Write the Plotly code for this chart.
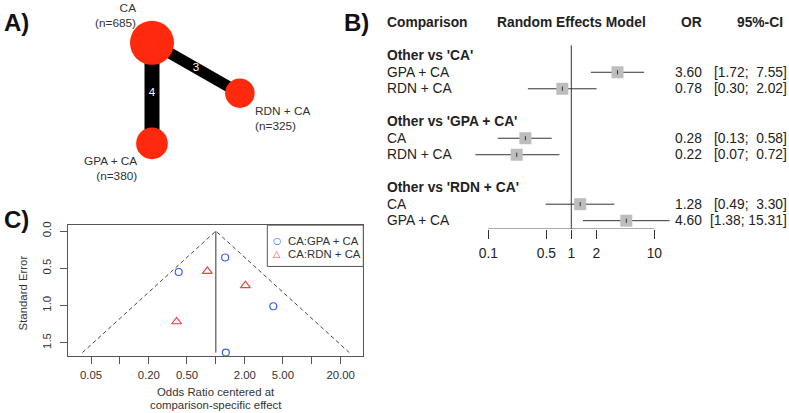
import math
import plotly.graph_objects as go

W, H = 789, 413
FONT = "Liberation Sans, Arial, Helvetica, sans-serif"
TXT = "#222222"

# ---------------- Panel A: network graph data ----------------
node_names = ["CA", "GPA + CA", "RDN + CA"]
node_n = [685, 380, 325]
edge_a = ["CA", "CA"]
edge_b = ["GPA + CA", "RDN + CA"]
edge_k = [4, 3]

# ---------------- Panel B: forest plot data ----------------
ref_groups = ["CA", "GPA + CA", "RDN + CA"]
cmp_treat = ["GPA + CA", "RDN + CA", "CA", "RDN + CA", "CA", "GPA + CA"]
cmp_ref = ["CA", "CA", "GPA + CA", "GPA + CA", "RDN + CA", "RDN + CA"]
or_est = [3.60, 0.78, 0.28, 0.22, 1.28, 4.60]
or_lo = [1.72, 0.30, 0.13, 0.07, 0.49, 1.38]
or_hi = [7.55, 2.02, 0.58, 0.72, 3.30, 15.31]
forest_ticks = [0.1, 0.5, 1, 2, 10]
forest_ticklabels = ["0.1", "0.5", "1", "2", "10"]

# ---------------- Panel C: funnel plot data ----------------
gpa_or = [0.41, 1.25, 3.97, 1.27]
gpa_se = [0.55, 0.355, 1.01, 1.633]
rdn_or = [0.815, 2.03, 0.39]
rdn_se = [0.54, 0.73, 1.217]
funnel_ticks = [0.05, 0.1, 0.2, 0.5, 1, 2, 5, 10, 20]
funnel_ticklabels = ["0.05", "", "0.20", "0.50", "", "2.00", "5.00", "", "20.00"]
se_ticks = [0, 0.5, 1.0, 1.5]
se_ticklabels = ["0.0", "0.5", "1.0", "1.5"]
legend_labels = ["CA:GPA + CA", "CA:RDN + CA"]


def fx(p):
    return p / W


def fy(p):
    return 1 - p / H


fig = go.Figure()
ann = []
shapes = []

# ===================== Panel A =====================
# circular layout (unit circle), starting angle 120 deg
pos = {}
for i, nm in enumerate(node_names):
    a = math.radians(120 + 120 * i)
    pos[nm] = (math.cos(a), math.sin(a))

for a_, b_, k in zip(edge_a, edge_b, edge_k):
    fig.add_trace(go.Scatter(
        x=[pos[a_][0], pos[b_][0]], y=[pos[a_][1], pos[b_][1]],
        mode="lines", line=dict(color="black", width=3.75 * k),
        xaxis="x", yaxis="y", hoverinfo="skip"))

fig.add_trace(go.Scatter(
    x=[pos[n][0] for n in node_names], y=[pos[n][1] for n in node_names],
    mode="markers",
    marker=dict(color="#ff2a0d", opacity=1, size=[16.4 + 0.0403 * n for n in node_n],
                line=dict(width=0)),
    xaxis="x", yaxis="y", hoverinfo="skip"))

fig.add_trace(go.Scatter(
    x=[(pos[a_][0] + pos[b_][0]) / 2 for a_, b_ in zip(edge_a, edge_b)],
    y=[(pos[a_][1] + pos[b_][1]) / 2 for a_, b_ in zip(edge_a, edge_b)],
    mode="text", text=[str(k) for k in edge_k],
    textfont=dict(color="white", size=11.5, family=FONT),
    xaxis="x", yaxis="y", hoverinfo="skip"))

label_style = {
    "CA": dict(xanchor="right", align="right", xshift=-14.5, yshift=27.5),
    "GPA + CA": dict(xanchor="right", align="right", xshift=-13.3, yshift=-25.3),
    "RDN + CA": dict(xanchor="left", align="left", xshift=13, yshift=-25),
}
for nm, n in zip(node_names, node_n):
    ann.append(dict(x=pos[nm][0], y=pos[nm][1], xref="x", yref="y",
                    text=f"{nm}<br>(n={n})", showarrow=False, yanchor="middle",
                    font=dict(family=FONT, size=11.8, color="#333333"),
                    **label_style[nm]))

# ===================== Panel B =====================
rows_label = []
rows_item = []
r = 0
for g in ref_groups:
    r += 2
    rows_label.append((r, f"<b>Other vs '{g}'</b>"))
    for t, rf in zip(cmp_treat, cmp_ref):
        if rf == g:
            r += 1
            rows_item.append(r)
            rows_label.append((r, t))

ci_x, ci_y = [], []
for lo, hi, rr in zip(or_lo, or_hi, rows_item):
    ci_x += [lo, hi, None]
    ci_y += [rr, rr, None]
fig.add_trace(go.Scatter(x=ci_x, y=ci_y, mode="lines", line=dict(color="#333333", width=1),
                         xaxis="x3", yaxis="y3", hoverinfo="skip"))
fig.add_trace(go.Scatter(x=or_est, y=rows_item, mode="markers",
                         marker=dict(symbol="square", size=12, color="#bdbdbd", line=dict(width=0)),
                         xaxis="x3", yaxis="y3", hoverinfo="skip"))
fig.add_trace(go.Scatter(x=or_est, y=rows_item, mode="markers",
                         marker=dict(symbol="line-ns", size=3, line=dict(width=1, color="#333333")),
                         xaxis="x3", yaxis="y3", hoverinfo="skip"))

row_px = 16.65
row0_px = 19.0
axis_px = 227.3
f_ybot = (axis_px - row0_px) / row_px
f_ytop = -row0_px / row_px
f_px_per_dec = 83.0
f_one_px = 571.3
fx_lo = (380 - f_one_px) / f_px_per_dec
fx_hi = (W - f_one_px) / f_px_per_dec

bfont = dict(family=FONT, size=13.8, color=TXT)
ann.append(dict(x=fx(385), y=0, xref="paper", yref="y3", text="<b>Comparison</b>",
                showarrow=False, xanchor="left", yanchor="middle", font=bfont))
ann.append(dict(x=0, y=0, xref="x3", yref="y3", text="<b>Random Effects Model</b>",
                showarrow=False, xanchor="center", yanchor="middle", font=bfont))
ann.append(dict(x=fx(704), y=0, xref="paper", yref="y3", text="<b>OR</b>",
                showarrow=False, xanchor="right", yanchor="middle", font=bfont))
ann.append(dict(x=fx(784.5), y=0, xref="paper", yref="y3", text="<b>95%-CI</b>",
                showarrow=False, xanchor="right", yanchor="middle", font=bfont))
for rr, txt in rows_label:
    ann.append(dict(x=fx(385), y=rr, xref="paper", yref="y3", text=txt,
                    showarrow=False, xanchor="left", yanchor="middle", font=bfont))
for est, lo, hi, rr in zip(or_est, or_lo, or_hi, rows_item):
    ann.append(dict(x=fx(704), y=rr, xref="paper", yref="y3", text=f"{est:.2f}",
                    showarrow=False, xanchor="right", yanchor="middle", font=bfont))
    ci = f"[{lo:.2f}; {hi:5.2f}]".replace(" ", "\u00a0")
    ann.append(dict(x=fx(789), y=rr, xref="paper", yref="y3", text=ci,
                    showarrow=False, xanchor="right", yanchor="middle", font=bfont))

# reference line at OR = 1 and axis line
shapes.append(dict(type="line", xref="x3", yref="y3", x0=1, x1=1, y0=1.36, y1=f_ybot,
                   line=dict(color="#333333", width=1)))
shapes.append(dict(type="line", xref="x3", yref="y3", x0=min(forest_ticks), x1=max(forest_ticks),
                   y0=f_ybot, y1=f_ybot, line=dict(color="#333333", width=1)))

# ===================== Panel C =====================
se_max = max(gpa_se + rdn_se)
fig.add_trace(go.Scatter(x=[math.exp(-1.96 * se_max), 1, math.exp(1.96 * se_max)],
                         y=[se_max, 0, se_max], mode="lines",
                         line=dict(color="#444444", width=1, dash="4px,3px"),
                         xaxis="x2", yaxis="y2", hoverinfo="skip"))
fig.add_trace(go.Scatter(x=[1, 1], y=[0, se_max], mode="lines",
                         line=dict(color="#333333", width=1),
                         xaxis="x2", yaxis="y2", hoverinfo="skip"))
fig.add_trace(go.Scatter(x=gpa_or, y=gpa_se, mode="markers",
                         marker=dict(symbol="circle-open", size=7, color="#3d5eff", line=dict(width=1.2)),
                         xaxis="x2", yaxis="y2", hoverinfo="skip"))
fig.add_trace(go.Scatter(x=rdn_or, y=rdn_se, mode="markers",
                         marker=dict(symbol="triangle-up-open", size=8.5, color="#ff3b3b", line=dict(width=1.2)),
                         xaxis="x2", yaxis="y2", hoverinfo="skip"))

c_left, c_right, c_top, c_bot = 68.3, 363.3, 223.3, 355.7
c_one = 215.85
c_dec = 95.96
c_ytick0 = 229.3
c_ppu = 75.13

cfont = dict(family=FONT, size=11.4, color="#333333")
# legend box
shapes.append(dict(type="rect", xref="paper", yref="paper", x0=fx(267.3), x1=fx(c_right),
                   y0=fy(265), y1=fy(c_top), line=dict(color="#555555", width=1),
                   fillcolor="white", layer="above"))
leg_sym = ["\u25cb", "\u25b3"]
leg_col = ["#3d5eff", "#ff3b3b"]
for i, (lab, sym, col) in enumerate(zip(legend_labels, leg_sym, leg_col)):
    yy = 239.3 + 12.7 * i
    ann.append(dict(x=fx(276.7), y=fy(yy), xref="paper", yref="paper", text=sym,
                    showarrow=False, xanchor="center", yanchor="middle",
                    font=dict(family="DejaVu Sans", size=9.5, color=col)))
    ann.append(dict(x=fx(286), y=fy(yy), xref="paper", yref="paper", text=lab,
                    showarrow=False, xanchor="left", yanchor="middle", font=cfont))

ann.append(dict(x=fx(23.3), y=fy(292), xref="paper", yref="paper", text="Standard Error",
                showarrow=False, textangle=-90, xanchor="center", yanchor="middle", font=cfont))
ann.append(dict(x=fx(216), y=fy(391.7), xref="paper", yref="paper", text="Odds Ratio centered at",
                showarrow=False, xanchor="center", yanchor="middle", font=cfont))
ann.append(dict(x=fx(216), y=fy(404.5), xref="paper", yref="paper", text="comparison-specific effect",
                showarrow=False, xanchor="center", yanchor="middle", font=cfont))

# panel letters
pfont = dict(family=FONT, size=24, color="#111111")
ann.append(dict(x=fx(2), y=fy(19), xref="paper", yref="paper", text="<b>A)</b>",
                showarrow=False, xanchor="left", yanchor="middle", font=pfont))
ann.append(dict(x=fx(342), y=fy(19), xref="paper", yref="paper", text="<b>B)</b>",
                showarrow=False, xanchor="left", yanchor="middle", font=pfont))
ann.append(dict(x=fx(2), y=fy(218), xref="paper", yref="paper", text="<b>C)</b>",
                showarrow=False, xanchor="left", yanchor="middle", font=pfont))

# ===================== Layout =====================
net_cx, net_cy, net_r = 181.3, 90.0, 58.6
fig.update_layout(
    width=W, height=H, margin=dict(l=0, r=0, t=0, b=0),
    paper_bgcolor="white", plot_bgcolor="white", showlegend=False,
    font=dict(family=FONT, color=TXT),
    xaxis=dict(domain=[0, fx(340)], range=[(0 - net_cx) / net_r, (340 - net_cx) / net_r],
               visible=False, fixedrange=True),
    yaxis=dict(domain=[fy(200), 1], range=[(net_cy - 200) / net_r, net_cy / net_r],
               visible=False, fixedrange=True),
    xaxis2=dict(domain=[fx(c_left), fx(c_right)], type="log",
                range=[(c_left - c_one) / c_dec, (c_right - c_one) / c_dec],
                tickvals=funnel_ticks, ticktext=funnel_ticklabels,
                ticks="outside", ticklen=7, tickcolor="#555555", tickwidth=1,
                showline=True, mirror=True, linecolor="#555555", linewidth=1,
                showgrid=False, zeroline=False, tickfont=cfont, anchor="y2",
                ticklabelstandoff=1),
    yaxis2=dict(domain=[fy(c_bot), fy(c_top)],
                range=[(c_bot - c_ytick0) / c_ppu, (c_top - c_ytick0) / c_ppu],
                tickvals=se_ticks, ticktext=se_ticklabels, tickangle=-90,
                ticks="outside", ticklen=7, tickcolor="#555555", tickwidth=1,
                showline=True, mirror=True, linecolor="#555555", linewidth=1,
                showgrid=False, zeroline=False, tickfont=cfont, anchor="x2",
                ticklabelstandoff=5),
    xaxis3=dict(domain=[fx(380), 1], type="log", range=[fx_lo, fx_hi],
                tickvals=forest_ticks, ticktext=forest_ticklabels,
                ticks="outside", ticklen=9, tickcolor="#333333", tickwidth=1,
                showline=False, showgrid=False, zeroline=False,
                tickfont=dict(family=FONT, size=13.8, color=TXT), anchor="y3",
                ticklabelstandoff=2),
    yaxis3=dict(domain=[fy(axis_px), 1], range=[f_ybot, f_ytop], visible=False,
                anchor="x3"),
    annotations=ann, shapes=shapes,
)

fig.write_html("out.html")
